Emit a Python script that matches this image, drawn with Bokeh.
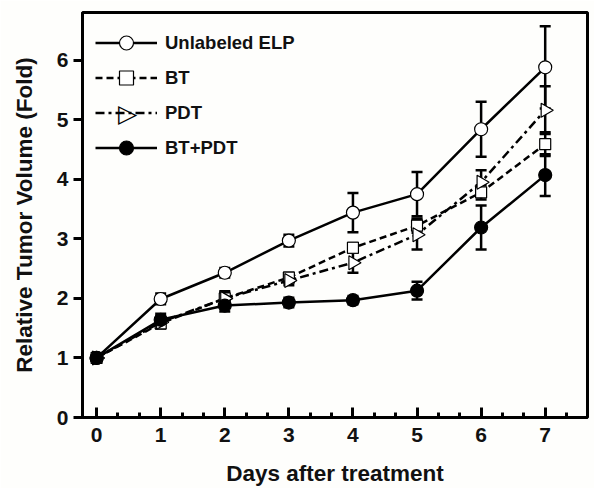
import math
from bokeh.plotting import figure
from bokeh.models import (ColumnDataSource, Range1d, SingleIntervalTicker, Whisker,
                          TeeHead, Legend, LegendItem, Label)
from bokeh.embed import file_html
from bokeh.resources import INLINE

days = [0, 1, 2, 3, 4, 5, 6, 7]
elp = [1.0, 1.99, 2.43, 2.97, 3.44, 3.75, 4.84, 5.88]
elp_err = [0.05, 0.09, 0.08, 0.10, 0.33, 0.37, 0.46, 0.69]
bt = [1.0, 1.58, 2.00, 2.35, 2.85, 3.22, 3.78, 4.59]
bt_err = [0.05, 0.08, 0.10, 0.08, 0.08, 0.12, 0.12, 0.20]
pdt = [1.0, 1.60, 2.00, 2.30, 2.60, 3.07, 3.95, 5.16]
pdt_err = [0.05, 0.10, 0.12, 0.08, 0.17, 0.25, 0.20, 0.40]
btpdt = [1.0, 1.64, 1.88, 1.93, 1.97, 2.13, 3.19, 4.07]
btpdt_err = [0.05, 0.10, 0.10, 0.08, 0.07, 0.15, 0.37, 0.35]
names = ["Unlabeled ELP", "BT", "PDT", "BT+PDT"]

FONT = "Liberation Sans"
BG = "#fefefc"

p = figure(width=594, height=488, output_backend="svg", toolbar_location=None,
           x_range=Range1d(-0.22, 7.66), y_range=Range1d(0, 6.8),
           min_border_left=82, min_border_right=7, min_border_top=12, min_border_bottom=71)
p.grid.visible = False
p.outline_line_color = "black"
p.outline_line_width = 3
p.background_fill_color = BG
p.border_fill_color = BG

p.xaxis.ticker = SingleIntervalTicker(interval=1, num_minor_ticks=3)
p.yaxis.ticker = SingleIntervalTicker(interval=1, num_minor_ticks=0)
for ax in (p.xaxis[0], p.yaxis[0]):
    ax.axis_line_width = 3
    ax.major_tick_line_width = 3
    ax.minor_tick_line_width = 3
    ax.major_label_text_font = FONT
    ax.major_label_text_font_style = "bold"
    ax.major_label_text_font_size = "21px"
    ax.major_label_text_color = "#111111"
    ax.axis_label_text_font = FONT
    ax.axis_label_text_font_style = "bold"
    ax.axis_label_text_font_size = "22.5px"
    ax.axis_label_text_color = "#111111"

p.xaxis.major_tick_in = 10
p.xaxis.major_tick_out = 0
p.xaxis.minor_tick_in = 5
p.xaxis.minor_tick_out = 0
p.xaxis.major_label_standoff = 10
p.xaxis.axis_label = "Days after treatment"
p.xaxis.axis_label_standoff = 16

p.yaxis.major_tick_in = 0
p.yaxis.major_tick_out = 9
p.yaxis.minor_tick_line_color = None
p.yaxis.major_label_standoff = 5
p.yaxis.axis_label = "Relative Tumor Volume (Fold)"
p.yaxis.axis_label_standoff = 17

series = [
    (elp, elp_err, "solid", "circle", "white", 13, 0),
    (bt, bt_err, "7 4", "square", "white", 11, 0),
    (pdt, pdt_err, "9 4 3 4", "triangle", "white", 14, -math.pi / 2),
    (btpdt, btpdt_err, "solid", "circle", "black", 13, 0),
]

# error bars
for vals, errs, *_ in series:
    src = ColumnDataSource(dict(x=days, upper=[v + e for v, e in zip(vals, errs)],
                                lower=[v - e for v, e in zip(vals, errs)]))
    w = Whisker(source=src, base="x", upper="upper", lower="lower",
                line_width=2.5, line_color="black",
                upper_head=TeeHead(size=11, line_width=2.5, line_color="black"),
                lower_head=TeeHead(size=11, line_width=2.5, line_color="black"))
    p.add_layout(w)

items = []
for (vals, errs, dash, marker, fill, size, ang), name in zip(series, names):
    src = ColumnDataSource(dict(x=days, y=vals))
    l = p.line("x", "y", source=src, line_width=2.5, line_color="black", line_dash=dash)
    s = p.scatter("x", "y", source=src, marker=marker, size=size, angle=ang,
                  fill_color=fill, line_color="black", line_width=1.2)
    if marker == "triangle":
        items.append(LegendItem(label=name, renderers=[l]))
    else:
        items.append(LegendItem(label=name, renderers=[l, s]))

leg = Legend(items=items, location="top_left", margin=13, padding=0, spacing=0,
             glyph_width=62, glyph_height=35, label_standoff=8,
             label_text_font=FONT, label_text_font_style="bold",
             label_text_font_size="18.5px", label_text_color="#111111",
             border_line_color=None, background_fill_alpha=0)
p.add_layout(leg)

# right-pointing triangle symbol for the PDT legend entry
p.add_layout(Label(x=45, y=405 - 13 - 35 * 2 - 17.5, x_units="screen", y_units="screen",
                   text="\u25B7", text_font="DejaVu Sans", text_font_size="25px",
                   text_align="center", text_baseline="middle", text_color="black",
                   background_fill_color=BG, background_fill_alpha=1.0))

open("out.html", "w").write(file_html(p, INLINE))
